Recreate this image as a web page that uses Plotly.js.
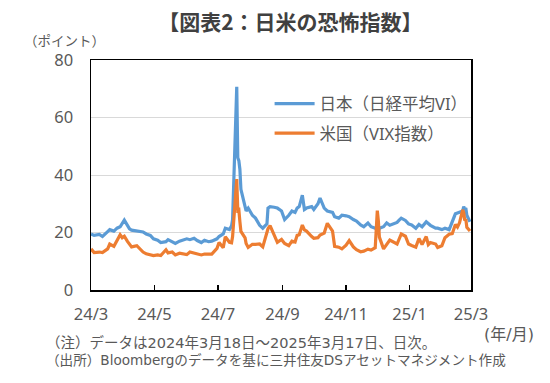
<!DOCTYPE html>
<html>
<head>
<meta charset="utf-8">
<script src="https://cdn.plot.ly/plotly-3.0.1.min.js"></script>
<style>html,body{margin:0;padding:0;background:#fff;}#chart{width:550px;height:383px;}</style>
</head>
<body>
<div id="chart"></div>
<script>
// Dates (daily data sampled), 2024-03-18 to 2025-03-17
const dates = [
"2024-03-18","2024-03-21","2024-03-26","2024-03-29","2024-04-03","2024-04-05","2024-04-09","2024-04-12","2024-04-15","2024-04-17",
"2024-04-19","2024-04-22","2024-04-24","2024-04-26","2024-05-01","2024-05-07","2024-05-10","2024-05-14","2024-05-17","2024-05-21",
"2024-05-24","2024-05-29","2024-05-31","2024-06-04","2024-06-07","2024-06-11","2024-06-14","2024-06-18","2024-06-21","2024-06-25",
"2024-06-28","2024-07-02","2024-07-05","2024-07-09","2024-07-12","2024-07-17","2024-07-19","2024-07-23","2024-07-25","2024-07-29",
"2024-07-31","2024-08-01","2024-08-02","2024-08-05","2024-08-06","2024-08-07","2024-08-08","2024-08-09","2024-08-13","2024-08-14",
"2024-08-16","2024-08-20","2024-08-23","2024-08-27","2024-08-30","2024-09-03","2024-09-04","2024-09-06","2024-09-10","2024-09-13",
"2024-09-17","2024-09-20","2024-09-24","2024-09-27","2024-09-30","2024-10-02","2024-10-04","2024-10-07","2024-10-09","2024-10-11",
"2024-10-16","2024-10-18","2024-10-22","2024-10-24","2024-10-28","2024-10-31","2024-11-05","2024-11-07","2024-11-11","2024-11-14",
"2024-11-18","2024-11-21","2024-11-25","2024-11-28","2024-12-02","2024-12-05","2024-12-09","2024-12-12","2024-12-16","2024-12-18",
"2024-12-19","2024-12-20","2024-12-24","2024-12-27","2024-12-30","2025-01-06","2025-01-08","2025-01-10","2025-01-14","2025-01-17",
"2025-01-20","2025-01-24","2025-01-27","2025-01-30","2025-02-03","2025-02-05","2025-02-07","2025-02-12","2025-02-14","2025-02-18",
"2025-02-21","2025-02-25","2025-02-28","2025-03-03","2025-03-05","2025-03-07","2025-03-10","2025-03-11","2025-03-12","2025-03-13",
"2025-03-14","2025-03-17"
];
// 日本（日経平均VI）
const japanVI = [
19.5,19.0,19.3,18.6,20.3,21.0,20.5,21.5,22.0,23.0,
24.3,22.5,21.3,20.8,20.5,20.2,19.5,19.0,17.8,17.3,
16.5,16.8,17.5,16.8,16.2,17.0,17.3,17.8,17.5,18.0,
17.2,16.5,17.3,16.8,17.0,17.8,18.6,19.5,21.5,21.0,
22.3,24.5,36.0,70.7,46.0,45.0,42.0,35.0,29.0,27.5,
28.5,26.0,25.0,22.5,21.5,23.0,28.5,29.0,28.8,28.5,
27.5,24.5,26.0,27.5,27.0,28.5,29.0,33.0,28.0,28.5,
29.0,28.0,30.0,32.0,28.5,27.5,27.0,25.5,25.0,26.0,
25.8,25.5,24.5,24.0,22.6,22.0,23.3,22.0,21.5,21.0,
20.2,21.5,22.0,23.3,22.5,23.5,24.3,25.0,24.2,23.0,
22.6,21.5,22.8,22.0,23.7,23.0,22.5,21.5,21.5,21.0,
21.5,21.0,24.0,26.5,26.8,27.0,27.5,29.0,28.0,28.5,
26.0,23.7
];
// 米国（VIX指数）
const usVIX = [
14.3,13.0,13.2,13.0,14.3,16.0,15.2,17.3,19.2,18.2,
18.7,16.9,15.7,15.0,15.4,13.2,12.6,12.4,12.0,12.2,
12.0,14.0,12.9,13.2,12.2,12.8,12.7,12.3,13.2,12.8,
12.4,12.2,12.5,12.4,12.5,14.5,16.5,14.7,18.5,16.6,
16.4,18.6,23.4,38.6,27.7,27.9,23.8,20.4,18.1,16.2,
14.8,15.9,15.9,16.0,15.0,20.7,21.3,22.4,19.1,16.6,
17.6,16.2,15.4,17.0,16.7,19.0,19.2,22.6,20.9,20.5,
18.6,18.0,18.2,19.1,19.8,23.2,20.5,15.2,14.9,14.3,
15.6,17.2,15.0,14.0,13.3,13.5,14.2,13.9,14.7,27.6,
24.1,18.4,14.3,15.9,17.4,16.0,17.7,19.5,18.7,16.0,
15.5,14.9,17.9,15.8,18.6,15.8,16.5,16.0,14.8,15.4,
18.2,19.4,19.6,22.8,21.9,23.4,27.9,26.9,24.2,24.7,
21.8,20.5
];
const seriesNames = ["日本（日経平均VI）","米国（VIX指数）"];
const tickDates = ["2024-03-18","2024-05-18","2024-07-18","2024-09-18","2024-11-18","2025-01-18","2025-03-18"];
const tickLabels = ["24/3","24/5","24/7","24/9","24/11","25/1","25/3"];
const yTicks = [0, 20, 40, 60, 80];

const LATIN = '"Noto Sans", "Noto Sans CJK JP", sans-serif';
const NOTE = '"DejaVu Sans", "Noto Sans CJK JP", sans-serif';
const CJK = '"Noto Sans CJK JP", "Noto Sans", sans-serif';
const GRAY = '#595959';

const traces = [
  {x: dates, y: japanVI, name: seriesNames[0], type: 'scatter', mode: 'lines',
   line: {color: '#5B9BD5', width: 3.2}, legendgroup: 'a'},
  {x: dates, y: usVIX, name: seriesNames[1], type: 'scatter', mode: 'lines',
   line: {color: '#ED7D31', width: 3.2}, legendgroup: 'b'}
];

const layout = {
  width: 550, height: 383,
  margin: {l: 91, r: 79, t: 60, b: 93},
  paper_bgcolor: '#fff', plot_bgcolor: '#fff',
  font: {family: LATIN, color: GRAY, size: 14},
  title: {text: '<b>【図表2：日米の恐怖指数】</b>', font: {family: CJK, size: 21, color: '#404040'},
          x: 0.528, xanchor: 'center', y: 0.942, yanchor: 'middle', xref: 'container', yref: 'container'},
  showlegend: true,
  legend: {x: 0.47, xanchor: 'left', y: 0.885, yanchor: 'top', bgcolor: 'rgba(0,0,0,0)',
           font: {family: LATIN, size: 16.5, color: GRAY}, traceorder: 'grouped', tracegroupgap: 5, itemwidth: 40},
  xaxis: {type: 'date', range: ['2024-03-18', '2025-03-18'], tickmode: 'array', tickvals: tickDates, ticktext: tickLabels,
          ticks: 'inside', ticklen: 5, tickcolor: '#000', tickwidth: 1.3,
          showline: true, mirror: true, linecolor: '#000', linewidth: 1.5, showgrid: false, zeroline: false,
          tickfont: {family: LATIN, size: 16.5, color: GRAY}, ticklabelstandoff: 9},
  yaxis: {range: [0, 80], tickmode: 'array', tickvals: yTicks, ticks: '',
          showline: true, mirror: true, linecolor: '#000', linewidth: 1.5,
          showgrid: true, gridcolor: '#d9d9d9', gridwidth: 1, zeroline: false,
          tickfont: {family: LATIN, size: 16.5, color: GRAY}, ticklabelstandoff: 13},
  annotations: [
    {text: '（ポイント）', xref: 'paper', yref: 'paper', x: (64 - 91) / 380, y: (290 - 40) / 230,
     xanchor: 'center', yanchor: 'middle', showarrow: false, font: {family: CJK, size: 13.5, color: GRAY}},
    {text: '(年/月)', xref: 'paper', yref: 'paper', x: (509 - 91) / 380, y: (290 - 334) / 230,
     xanchor: 'center', yanchor: 'middle', showarrow: false, font: {family: NOTE, size: 16, color: GRAY}},
    {text: '（注）データは2024年3月18日～2025年3月17日、日次。', xref: 'paper', yref: 'paper',
     x: (44 - 91) / 380, y: (290 - 342) / 230, xanchor: 'left', yanchor: 'middle', showarrow: false,
     font: {family: NOTE, size: 14.5, color: GRAY}},
    {text: '（出所）Bloombergのデータを基に三井住友DSアセットマネジメント作成', xref: 'paper', yref: 'paper',
     x: (44 - 91) / 380, y: (290 - 360) / 230, xanchor: 'left', yanchor: 'middle', showarrow: false,
     font: {family: NOTE, size: 13.6, color: GRAY}}
  ]
};

Plotly.newPlot('chart', traces, layout, {staticPlot: true, displayModeBar: false});
</script>
</body>
</html>
